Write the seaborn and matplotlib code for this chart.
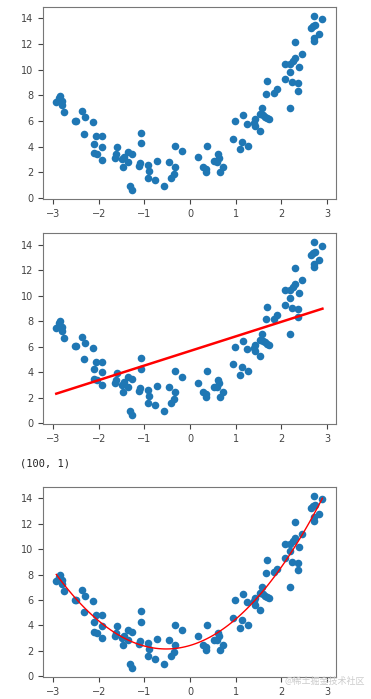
import numpy as np
import matplotlib
matplotlib.use("Agg")
import matplotlib.pyplot as plt
import seaborn as sns

# 数据点
x = [-2.93, -2.85, -2.86, -2.80, -2.80, -2.77, -2.53, -2.49, -2.36, -2.31,
     -2.33, -2.12, -2.06, -1.93, -2.11, -1.92, -2.10, -2.03, -1.93, -1.59,
     -1.63, -1.64, -1.50, -1.44, -1.46, -1.36, -1.36, -1.27, -1.31, -1.28,
     -1.08, -1.08, -1.10, -1.12, -0.93, -0.90, -0.92, -0.77, -0.72, -0.56,
     -0.45, -0.34, -0.36, -0.41, -0.34, -0.18, 0.17, 0.29, 0.34, 0.36,
     0.38, 0.53, 0.58, 0.61, 0.64, 0.65, 0.72, 0.95, 0.99, 1.09,
     1.13, 1.15, 1.25, 1.28, 1.40, 1.42, 1.42, 1.53, 1.58, 1.53,
     1.60, 1.64, 1.68, 1.72, 1.66, 1.68, 1.83, 1.91, 2.07, 2.09,
     2.18, 2.20, 2.20, 2.24, 2.25, 2.29, 2.31, 2.36, 2.37, 2.39,
     2.45, 2.66, 2.70, 2.73, 2.71, 2.71, 2.72, 2.83, 2.90]
y = [7.47, 7.99, 7.83, 7.57, 7.26, 6.71, 6.04, 6.04, 6.79, 6.30,
     5.03, 5.91, 4.82, 4.82, 4.25, 3.99, 3.50, 3.40, 2.98, 3.97,
     3.40, 3.14, 3.03, 3.21, 2.44, 3.63, 2.85, 3.45, 0.96, 0.62,
     5.11, 4.28, 2.77, 2.51, 2.59, 2.15, 1.58, 1.40, 2.93, 0.96,
     2.85, 2.46, 1.89, 1.56, 4.07, 3.66, 3.19, 2.46, 2.31, 2.05,
     4.07, 2.88, 2.85, 3.42, 3.14, 2.07, 2.44, 4.61, 5.99, 3.79,
     4.41, 6.46, 5.81, 4.07, 5.89, 5.63, 6.17, 5.24, 7.00, 6.56,
     6.46, 6.35, 6.25, 6.17, 8.14, 9.13, 8.17, 8.48, 9.28, 10.45,
     7.03, 9.85, 10.42, 9.02, 10.66, 10.89, 12.16, 8.35, 8.94, 10.19,
     11.20, 13.22, 13.38, 13.46, 14.20, 12.50, 12.26, 12.78, 13.92]

x = np.array(x)
y = np.array(y)

plt.rcParams['font.size'] = 7
plt.rcParams['xtick.color'] = '#444444'
plt.rcParams['ytick.color'] = '#444444'
plt.rcParams['axes.edgecolor'] = '#777777'

fig = plt.figure(figsize=(3.71, 6.99), dpi=100)
axes = [
    fig.add_axes([0.116, 0.715, 0.790, 0.275]),
    fig.add_axes([0.116, 0.393, 0.790, 0.273]),
    fig.add_axes([0.116, 0.031, 0.790, 0.272]),
]

for ax in axes:
    sns.scatterplot(x=x, y=y, color='#1f77b4', s=30, linewidth=0, ax=ax)
    ax.set_xticks([-3, -2, -1, 0, 1, 2, 3])
    ax.set_yticks([0, 2, 4, 6, 8, 10, 12, 14])
    ax.set_xticklabels(['\u22123', '\u22122', '\u22121', '0', '1', '2', '3'])

# 线性回归
sns.regplot(x=x, y=y, order=1, ci=None, scatter=False, color='red',
            line_kws={'linewidth': 1.8}, ax=axes[1])
# 二次多项式回归
sns.regplot(x=x, y=y, order=2, ci=None, scatter=False, color='red',
            line_kws={'linewidth': 1.0}, ax=axes[2])

for ax in axes:
    ax.set_xlim(-3.22, 3.20)
    ax.set_ylim(-0.08, 14.88)
    ax.set_xlabel('')
    ax.set_ylabel('')

fig.text(0.054, 0.332, '(100, 1)', fontsize=7.5, family='DejaVu Sans Mono', color='#222222')
fig.text(0.985, 0.022, '@稀土掘金技术社区', fontsize=6.5, ha='right', color='#cccccc',
         family=['Noto Sans CJK SC', 'DejaVu Sans'])

fig.savefig('out.png', dpi=100)
